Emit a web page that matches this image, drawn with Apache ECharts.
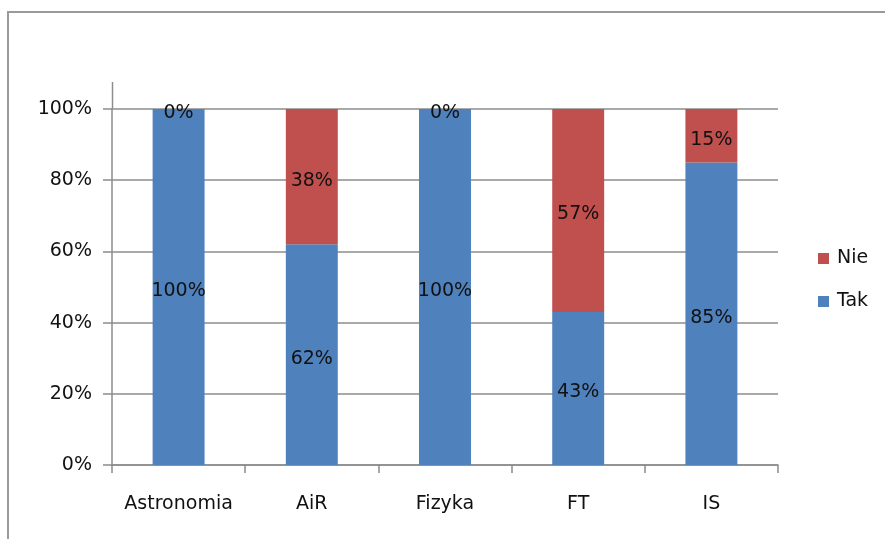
<!DOCTYPE html>
<html>
<head>
<meta charset="utf-8">
<script src="https://cdn.jsdelivr.net/npm/echarts@6/dist/echarts.min.js"></script>
<style>
  html, body { margin: 0; padding: 0; background: #fff; }
  #chart { width: 885px; height: 539px; }
</style>
</head>
<body>
<div id="chart"></div>
<script>
// dane z wykresu (procenty)
const categories = ['Astronomia', 'AiR', 'Fizyka', 'FT', 'IS']
const tak = [100, 62, 100, 43, 85]
const nie = [0, 38, 0, 57, 15]
const yTicks = [0, 20, 40, 60, 80, 100]

const FONT = 'DejaVu Sans'
const chart = echarts.init(document.getElementById('chart'))

const labelStyle = {
  show: true,
  position: 'inside',
  offset: [0, 4],
  color: '#111',
  fontFamily: FONT,
  fontSize: 19,
  formatter: p => p.value + '%'
}

chart.setOption({
  animation: false,
  graphic: [
    // ramka wykresu
    {
      type: 'rect',
      shape: { x: 8, y: 12, width: 900, height: 560 },
      style: { fill: 'none', stroke: '#9a9a9a', lineWidth: 2 }
    },
    // przedłużenie osi Y nad 100%
    {
      type: 'line',
      shape: { x1: 112.5, y1: 82, x2: 112.5, y2: 109 },
      style: { stroke: '#8c8c8c', lineWidth: 1.5 }
    }
  ],
  grid: { left: 112, right: 107, top: 109, bottom: 74, containLabel: false },
  legend: {
    orient: 'vertical',
    left: 813,
    top: 244,
    itemWidth: 11,
    itemHeight: 11,
    itemGap: 24,
    icon: 'rect',
    textStyle: { fontFamily: FONT, fontSize: 19, color: '#111', padding: [0, 0, 0, 3] },
    data: ['Nie', 'Tak']
  },
  xAxis: {
    type: 'category',
    data: categories,
    axisLine: { lineStyle: { color: '#8c8c8c', width: 1.5 } },
    axisTick: { show: true, interval: 0, length: 8, lineStyle: { color: '#8c8c8c', width: 1.5 } },
    axisLabel: { interval: 0, fontFamily: FONT, fontSize: 19, color: '#111', margin: 30 }
  },
  yAxis: {
    type: 'value',
    min: yTicks[0],
    max: yTicks[yTicks.length - 1],
    interval: 20,
    axisLine: { show: true, lineStyle: { color: '#8c8c8c', width: 1.5 } },
    axisTick: { show: true, length: 9, lineStyle: { color: '#8c8c8c', width: 1.5 } },
    splitLine: { lineStyle: { color: '#8c8c8c', width: 1.5 } },
    axisLabel: { fontFamily: FONT, fontSize: 19, color: '#111', margin: 20, formatter: '{value}%' }
  },
  series: [
    {
      name: 'Tak',
      type: 'bar',
      stack: 'all',
      barWidth: '39%',
      data: tak,
      itemStyle: { color: '#4F81BD' },
      label: labelStyle
    },
    {
      name: 'Nie',
      type: 'bar',
      stack: 'all',
      barWidth: '39%',
      data: nie,
      itemStyle: { color: '#C0504D' },
      label: labelStyle
    }
  ]
})
</script>
</body>
</html>
